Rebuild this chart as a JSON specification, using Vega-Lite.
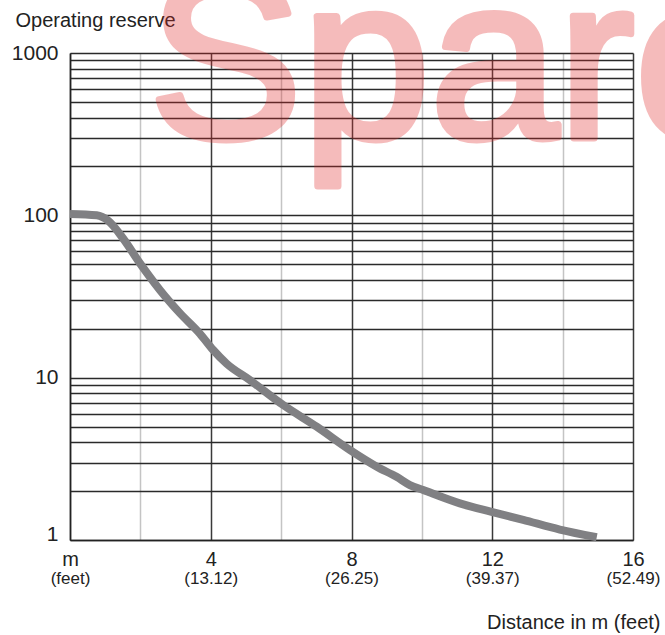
{
  "$schema": "https://vega.github.io/schema/vega-lite/v6.json",
  "width": 563,
  "height": 487,
  "autosize": {"type": "none"},
  "padding": {"left": 70, "top": 53, "right": 32, "bottom": 95},
  "background": "white",
  "config": {
    "view": {"stroke": null},
    "font": "Liberation Sans",
    "axis": {"labelFont": "Liberation Sans", "titleFont": "Liberation Sans", "labelColor": "#222", "titleColor": "#222", "titleFontWeight": "normal"}
  },
  "layer": [
    {
      "data": {"values": [
        {"distance": 0, "reserve": 102},
        {"distance": 0.76, "reserve": 100},
        {"distance": 1.09, "reserve": 92.5},
        {"distance": 1.51, "reserve": 72},
        {"distance": 1.99, "reserve": 50.6},
        {"distance": 2.56, "reserve": 34.6},
        {"distance": 3.13, "reserve": 24.9},
        {"distance": 3.69, "reserve": 18.7},
        {"distance": 4.07, "reserve": 14.8},
        {"distance": 4.45, "reserve": 12.2},
        {"distance": 5.11, "reserve": 9.67},
        {"distance": 6.06, "reserve": 6.78},
        {"distance": 7.01, "reserve": 4.99},
        {"distance": 7.96, "reserve": 3.58},
        {"distance": 8.72, "reserve": 2.83},
        {"distance": 9.28, "reserve": 2.45},
        {"distance": 9.66, "reserve": 2.18},
        {"distance": 10.04, "reserve": 2.03},
        {"distance": 11.08, "reserve": 1.68},
        {"distance": 11.98, "reserve": 1.49},
        {"distance": 12.88, "reserve": 1.33},
        {"distance": 13.92, "reserve": 1.16},
        {"distance": 14.97, "reserve": 1.04}
      ]},
      "mark": {"type": "line", "color": "#808083", "strokeWidth": 8, "strokeCap": "butt", "strokeJoin": "round", "interpolate": "monotone"},
      "encoding": {
        "x": {
          "field": "distance", "type": "quantitative",
          "scale": {"domain": [0, 16], "nice": false, "zero": false},
          "axis": {
            "values": [0, 2, 4, 6, 8, 10, 12, 14, 16],
            "labelExpr": "datum.value == 0 ? 'm' : (datum.value % 4 == 0 ? datum.label : '')",
            "labelFontSize": 20,
            "labelPadding": 9,
            "labelBaseline": "top",
            "labelFlush": false,
            "labelOverlap": false,
            "ticks": false,
            "grid": true,
            "gridColor": {"condition": {"test": "datum.value % 4 == 0", "value": "#3a3a3a"}, "value": "#c4c4c4"},
            "gridWidth": 1.5,
            "gridOpacity": 1,
            "domain": true,
            "domainColor": "#222",
            "domainWidth": 1.5,
            "title": "Distance in m (feet)",
            "titleFontSize": 20,
            "titleAlign": "right",
            "titleAnchor": "end",
            "titleBaseline": "alphabetic",
            "titleX": 590,
            "titleY": 88
          }
        },
        "y": {
          "field": "reserve", "type": "quantitative",
          "scale": {"type": "log", "domain": [1, 1000], "nice": false},
          "axis": {
            "orient": "left",
            "values": [1, 2, 3, 4, 5, 6, 7, 8, 9, 10, 20, 30, 40, 50, 60, 70, 80, 90, 100, 200, 300, 400, 500, 600, 700, 800, 900, 1000],
            "labelExpr": "(datum.value == 1 || datum.value == 10 || datum.value == 100 || datum.value == 1000) ? datum.label : ''",
            "format": "d",
            "labelFontSize": 21,
            "labelPadding": 12,
            "labelBaseline": {"condition": {"test": "datum.value == 1", "value": "alphabetic"}, "value": "middle"},
            "labelOverlap": false,
            "labelFlush": false,
            "ticks": false,
            "grid": true,
            "gridColor": "#2a2a2a",
            "gridWidth": 1.3,
            "gridOpacity": 1,
            "domain": true,
            "domainColor": "#222",
            "domainWidth": 1.5,
            "title": "Operating reserve",
            "titleFontSize": 20,
            "titleAngle": 0,
            "titleAlign": "left",
            "titleBaseline": "alphabetic",
            "titleX": -55,
            "titleY": -27
          }
        }
      }
    },
    {
      "data": {"values": [{"distance": 2.24, "reserve": 299, "mark_text": "Spare"}]},
      "mark": {"type": "text", "font": "Liberation Sans", "fontSize": 230, "align": "left", "baseline": "alphabetic", "color": "#e02828", "stroke": "#e02828", "strokeWidth": 7, "strokeJoin": "round", "opacity": 0.31, "clip": false},
      "encoding": {
        "x": {
          "field": "distance", "type": "quantitative",
          "scale": {"domain": [0, 16], "nice": false, "zero": false},
          "axis": {
            "orient": "bottom",
            "values": [0, 4, 8, 12, 16],
            "labelExpr": "datum.value == 0 ? '(feet)' : datum.value == 4 ? '(13.12)' : datum.value == 8 ? '(26.25)' : datum.value == 12 ? '(39.37)' : '(52.49)'",
            "labelFontSize": 17,
            "labelPadding": 30,
            "labelBaseline": "top",
            "labelFlush": false,
            "labelOverlap": false,
            "ticks": false,
            "grid": false,
            "domain": false,
            "title": null
          }
        },
        "y": {"field": "reserve", "type": "quantitative", "scale": {"type": "log", "domain": [1, 1000], "nice": false}, "axis": null},
        "text": {"field": "mark_text"}
      }
    }
  ],
  "resolve": {"axis": {"x": "independent", "y": "independent"}}
}
